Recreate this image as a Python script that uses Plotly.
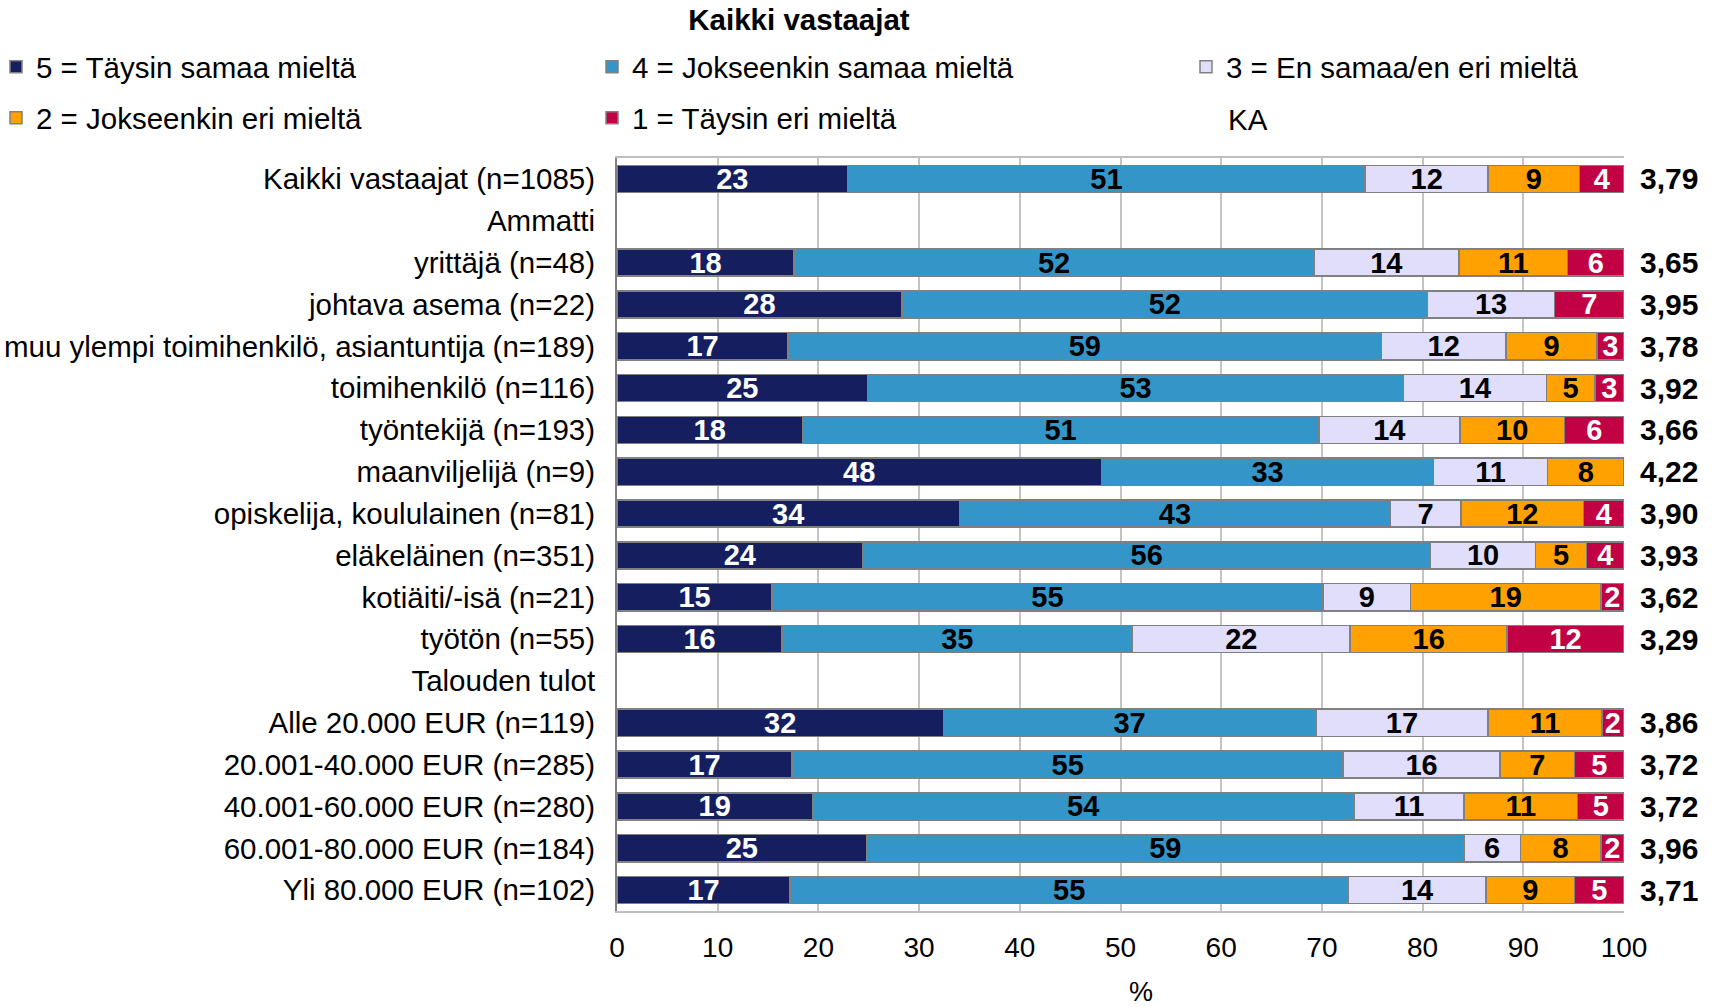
import plotly.graph_objects as go

categories = [
    "Kaikki vastaajat (n=1085)", "Ammatti", "yrittäjä (n=48)", "johtava asema (n=22)",
    "muu ylempi toimihenkilö, asiantuntija (n=189)", "toimihenkilö (n=116)",
    "työntekijä (n=193)", "maanviljelijä (n=9)", "opiskelija, koululainen (n=81)",
    "eläkeläinen (n=351)", "kotiäiti/-isä (n=21)", "työtön (n=55)", "Talouden tulot",
    "Alle 20.000 EUR (n=119)", "20.001-40.000 EUR (n=285)", "40.001-60.000 EUR (n=280)",
    "60.001-80.000 EUR (n=184)", "Yli 80.000 EUR (n=102)",
]

taysin_samaa = [22.9, None, 17.6, 28.3, 17.0, 24.9, 18.4, 48.1, 34.0, 24.4, 15.4, 16.4, None, 32.4, 17.4, 19.4, 24.8, 17.2]
jokseenkin_samaa = [51.4, None, 51.6, 52.2, 58.9, 53.2, 51.3, 33.0, 42.8, 56.4, 54.7, 34.8, None, 37.0, 54.7, 53.8, 59.3, 55.4]
en_samaa_en_eri = [12.2, None, 14.4, 12.6, 12.4, 14.2, 14.0, 11.3, 7.0, 10.4, 8.7, 21.6, None, 17.1, 15.6, 10.9, 5.6, 13.7]
jokseenkin_eri = [9.1, None, 10.8, None, 9.0, 4.8, 10.4, 7.6, 12.2, 5.1, 18.9, 15.6, None, 11.3, 7.4, 11.3, 8.0, 8.8]
taysin_eri = [4.4, None, 5.6, 6.9, 2.7, 2.9, 5.9, None, 4.0, 3.7, 2.3, 11.6, None, 2.2, 4.9, 4.6, 2.3, 4.9]
ka = [3.79, None, 3.65, 3.95, 3.78, 3.92, 3.66, 4.22, 3.90, 3.93, 3.62, 3.29, None, 3.86, 3.72, 3.72, 3.96, 3.71]

# name, values, fill, label colour, legend slot (col, row)
series = [
    ("5 = Täysin samaa mieltä", taysin_samaa, "#151f60", "white", (0, 0)),
    ("4 = Jokseenkin samaa mieltä", jokseenkin_samaa, "#3496c8", "black", (1, 0)),
    ("3 = En samaa/en eri mieltä", en_samaa_en_eri, "#e1defb", "black", (2, 0)),
    ("2 = Jokseenkin eri mieltä", jokseenkin_eri, "#ffa100", "black", (0, 1)),
    ("1 = Täysin eri mieltä", taysin_eri, "#c20044", "white", (1, 1)),
]

FONT = "Liberation Sans, Arial, sans-serif"
W, H = 1718, 1007
L, R, T, B = 617, 94, 158, 96
PW, PH = W - L - R, H - T - B
col_x = [-4, 592, 1186]     # legend column left edges (px); text starts 40px further
row_y = [68, 119]           # legend row text centres (px)
LEG_DY = 1


def px_x(p):
    return (p - L) / PW


def px_y(p):
    return (H - B - p) / PH


fig = go.Figure()
legends = {}
for i, (name, vals, color, tcolor, (c, r)) in enumerate(series):
    key = "legend" if i == 0 else f"legend{i + 1}"
    fig.add_trace(go.Bar(
        y=categories, x=vals, name=name, orientation="h",
        marker=dict(color=color, line=dict(color="#808080", width=1.5)),
        texttemplate="%{x:.0f}", textposition="inside", insidetextanchor="middle",
        textangle=0,
        textfont=dict(family=FONT, size=29, color=tcolor, weight="bold"),
        legend=key, hoverinfo="skip", showlegend=True,
    ))
    legends[key] = dict(
        visible=True,
        x=px_x(col_x[c]), y=px_y(row_y[r] - LEG_DY), xanchor="left", yanchor="middle",
        font=dict(family=FONT, size=29.5, color="black"),
        itemwidth=30, bgcolor="rgba(0,0,0,0)",
    )

# KA column on the right
for cat, v in zip(categories, ka):
    if v is None:
        continue
    fig.add_annotation(
        x=1.014, xref="paper", y=cat, yref="y", xanchor="left",
        text=f"{v:.2f}".replace(".", ","), showarrow=False,
        font=dict(family=FONT, size=30, color="black", weight="bold"),
    )

fig.add_annotation(
    x=px_x(col_x[2] + 40), xref="paper", y=px_y(row_y[1]), yref="paper",
    xanchor="left", yanchor="middle",
    text="KA", showarrow=False, font=dict(family=FONT, size=29.5, color="black"),
)
fig.add_annotation(
    x=52, xref="x", y=px_y(992), yref="paper", yanchor="middle",
    text="%", showarrow=False, font=dict(family=FONT, size=27, color="black"),
)

fig.update_layout(
    width=W, height=H,
    margin=dict(l=L, r=R, t=T, b=B, autoexpand=False),
    barmode="stack", bargap=0.35,
    plot_bgcolor="white", paper_bgcolor="white",
    font=dict(family=FONT, size=28, color="black"),
    showlegend=True,
    title=dict(text="<b>Kaikki vastaajat</b>", x=799 / W, xanchor="center",
               y=1 - 20 / H, yanchor="middle", font=dict(family=FONT, size=29.5, color="black")),
    uniformtext=dict(minsize=29, mode="show"),
    **legends,
)
fig.update_xaxes(
    range=[0, 100], tick0=0, dtick=10, showgrid=True, gridcolor="#c4c4c4", gridwidth=1.5,
    showline=True, mirror=True, linecolor="#bfbfbf", linewidth=1.5,
    zeroline=False, ticklabelstandoff=11, automargin=False,
    tickfont=dict(family=FONT, size=28, color="black"),
)
fig.update_yaxes(
    autorange="reversed", showline=True, linecolor="#808080", linewidth=2,
    ticklabelstandoff=14, automargin=False,
    tickfont=dict(family=FONT, size=29.5, color="black"),
)

# page has an 8px default body margin; drop it so the figure fills the window
fig.write_html("out.html", config={"displayModeBar": False},
               post_script="document.body.style.margin='0';")
